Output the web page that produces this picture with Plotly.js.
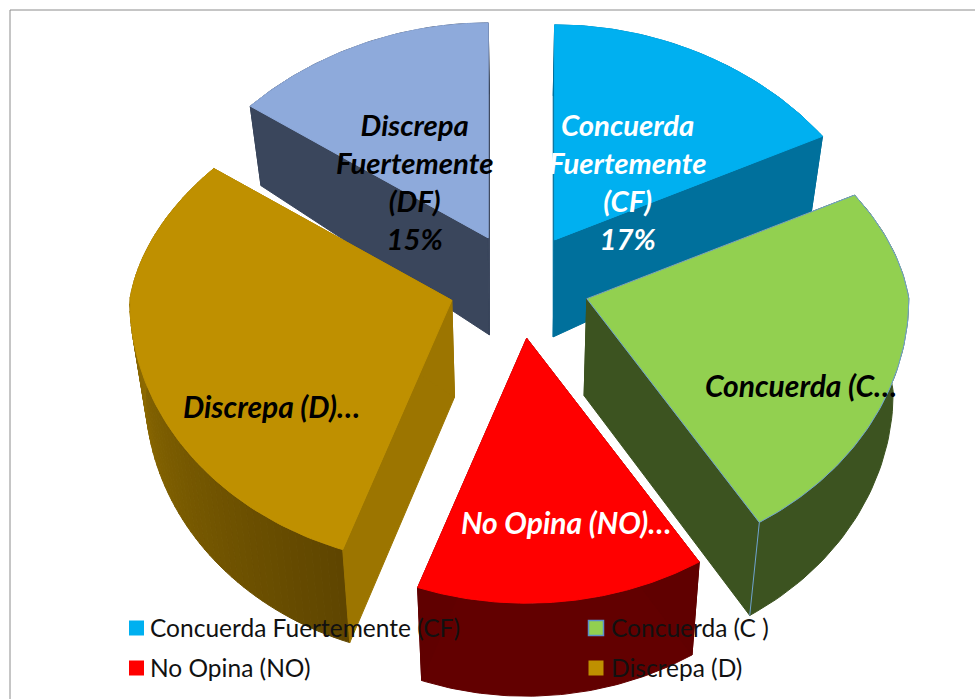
<!DOCTYPE html>
<html>
<head>
<meta charset="utf-8">
<script src="https://cdn.plot.ly/plotly-3.0.1.min.js"></script>
<style>html,body{margin:0;padding:0;background:#fff}#chart{width:975px;height:699px}</style>
</head>
<body>
<div id="chart"></div>
<script>
// ---- data ----
const categories = ["Concuerda Fuertemente (CF)", "Concuerda (C )", "No Opina (NO)", "Discrepa (D)", "Discrepa Fuertemente (DF)"];
const shares = [17, 24, 14.5, 30, 14.5];
const topColors = ["#00B0F0", "#92D050", "#FF0000", "#BF9000", "#8EAADB"];
const sideColors = ["#00709C", "#3C5320", "#600000", "#9C7500", "#3A465C"];
const wallFrom = ["#00709C", "#3C5320", "#620000", "#A67E00", "#3A465C"];
const wallTo = ["#00709C", "#3C5320", "#620000", "#5E4500", "#3A465C"];
const sliceLabels = [
  "Concuerda<br>Fuertemente<br>(CF)<br>17%",
  "Concuerda (C\u2026",
  "No Opina (NO)\u2026",
  "Discrepa (D)\u2026",
  "Discrepa<br>Fuertemente<br>(DF)<br>15%"
];
const labelColors = ["#FFFFFF", "#000000", "#FFFFFF", "#000000", "#000000"];
const labelSizes = [29.3, 30, 30, 30, 29.3];
const labelX = [627, 801, 566, 271, 414];
const labelY = [181, 385, 522, 406, 181];
const legendX = [110, 571, 110, 571];
const legendY = [628, 628, 668, 668];
const swatchX = [136.5, 596, 136.5, 596];
const drawOrder = [4, 0, 3, 1, 2];

// ---- projection of the tilted, exploded pie ----
const CX = 519, CY = 285.5, EX = 70, EY = 53, DEPTH = 93, SHRINK = 0.96;
function rad(t){ return t * Math.PI / 180; }
function rim(t, c, r){
  const cs = Math.cos(rad(t)), sn = Math.sin(rad(t));
  const a = 322 - 34 * Math.max(0, cs);
  const b = cs > 0 ? 215 : 265;
  return [c[0] + r * a * sn, c[1] - r * b * cs];
}
function lower(p, t, r){
  const h = DEPTH + 4 * (1 - r) - 22 * r * Math.max(0, Math.cos(rad(t)));
  return [CX + (p[0] - CX) * SHRINK, p[1] + h];
}
function hex2(c){ return [1,3,5].map(i => parseInt(c.substr(i,2),16)); }
function mix(a, b, f){
  const A = hex2(a), B = hex2(b);
  return "rgb(" + A.map((v,i) => Math.round(v + (B[i]-v)*f)).join(",") + ")";
}
function poly(points, fill, line, width){
  return {type:"scatter", mode:"lines", x:points.map(p=>p[0]), y:points.map(p=>p[1]),
    fill:"toself", fillcolor:fill, line:{color:line||fill, width:width===undefined?1:width},
    showlegend:false, hoverinfo:"skip"};
}

const total = shares.reduce((s,v)=>s+v,0);
let cum = 0;
const slices = shares.map((v,i)=>{
  const t0 = cum/total*360; cum += v; const t1 = cum/total*360;
  const mid = rad((t0+t1)/2);
  return {i, t0, t1, c:[CX + EX*Math.sin(mid), CY - EY*Math.cos(mid)]};
});

const traces = [];
drawOrder.forEach(idx=>{
  const s = slices[idx], c = s.c;
  const apex = c, apexLow = lower(c, 0, 0);
  // outer wall as shaded strips following the arc
  const strips = wallFrom[idx]===wallTo[idx] ? 1 : 70;
  const sub = strips===1 ? 60 : 2;
  for(let k=0;k<strips;k++){
    const a0 = s.t0 + (s.t1-s.t0)*k/strips, a1 = s.t0 + (s.t1-s.t0)*(k+1)/strips;
    const up=[], dn=[];
    for(let j=0;j<=sub;j++){
      const t=a0+(a1-a0)*j/sub, p=rim(t,c,1);
      up.push(p); dn.unshift(lower(p,t,1));
    }
    const f = 1 - (k+0.5)/strips;
    traces.push(poly(up.concat(dn,[up[0]]), mix(wallFrom[idx],wallTo[idx],f)));
  }
  // radial side planes
  [s.t0, s.t1].forEach(t=>{
    const p = rim(t,c,1);
    traces.push(poly([apex,p,lower(p,t,1),apexLow,apex], sideColors[idx]));
  });
  // the green slice has a fine blue outline on its visible edge
  if(idx===1){
    const p=rim(s.t1,c,1);
    traces.push({type:"scatter",mode:"lines",x:[p[0],lower(p,s.t1,1)[0]],y:[p[1],lower(p,s.t1,1)[1]],
      line:{color:"#6FA3CF",width:1},showlegend:false,hoverinfo:"skip"});
  }
  // top face
  const face=[apex];
  for(let j=0;j<=90;j++){ face.push(rim(s.t0+(s.t1-s.t0)*j/90,c,1)); }
  face.push(apex);
  const t = poly(face, topColors[idx], idx===1?"#6FA3CF":topColors[idx], 1);
  t.name = categories[idx];
  traces.push(t);
});

// legend: text entries through Plotly legends (keys transparent), visible square keys placed beside them
const legendKeys = ["legend","legend2","legend3","legend4"];
const layoutLegends = {};
legendKeys.forEach((key,n)=>{
  traces.push({type:"scatter",mode:"markers",x:[null],y:[null],name:categories[n],legend:key,
    showlegend:true,hoverinfo:"skip",
    marker:{symbol:"square",size:15,color:"rgba(0,0,0,0)",line:{width:0}}});
  traces.push({type:"scatter",mode:"markers",x:[swatchX[n]],y:[legendY[n]],showlegend:false,hoverinfo:"skip",
    marker:{symbol:"square",size:15,color:topColors[n],
      line:n===1?{color:"#5B8FC9",width:1.5}:{width:0}}});
  layoutLegends[key]={x:legendX[n]/975,y:1-legendY[n]/699,xanchor:"left",yanchor:"middle",
    bgcolor:"rgba(0,0,0,0)",borderwidth:0,itemwidth:30,
    font:{family:"Lato, 'Open Sans', sans-serif",size:24.5,color:"#111"}};
});

const annotations = sliceLabels.map((text,i)=>({
  x:labelX[i],y:labelY[i],xref:"x",yref:"y",text:"<b><i>"+text+"</i></b>",showarrow:false,
  xanchor:"center",yanchor:"middle",align:"center",
  font:{family:"Lato, 'Liberation Sans', sans-serif",size:labelSizes[i],color:labelColors[i]}
}));

const layout = Object.assign({
  width:975,height:699,margin:{l:0,r:0,t:0,b:0},paper_bgcolor:"#fff",plot_bgcolor:"#fff",
  xaxis:{range:[0,975],visible:false,fixedrange:true},
  yaxis:{range:[699,0],visible:false,fixedrange:true},
  annotations,
  shapes:[
    {type:"line",xref:"x",yref:"y",x0:10,x1:975,y0:10,y1:10,line:{color:"#8C8C8C",width:1},layer:"below"},
    {type:"line",xref:"x",yref:"y",x0:10,x1:10,y0:10,y1:699,line:{color:"#8C8C8C",width:1},layer:"below"}
  ]
}, layoutLegends);

Plotly.newPlot("chart", traces, layout, {displayModeBar:false,staticPlot:true});
</script>
</body>
</html>
